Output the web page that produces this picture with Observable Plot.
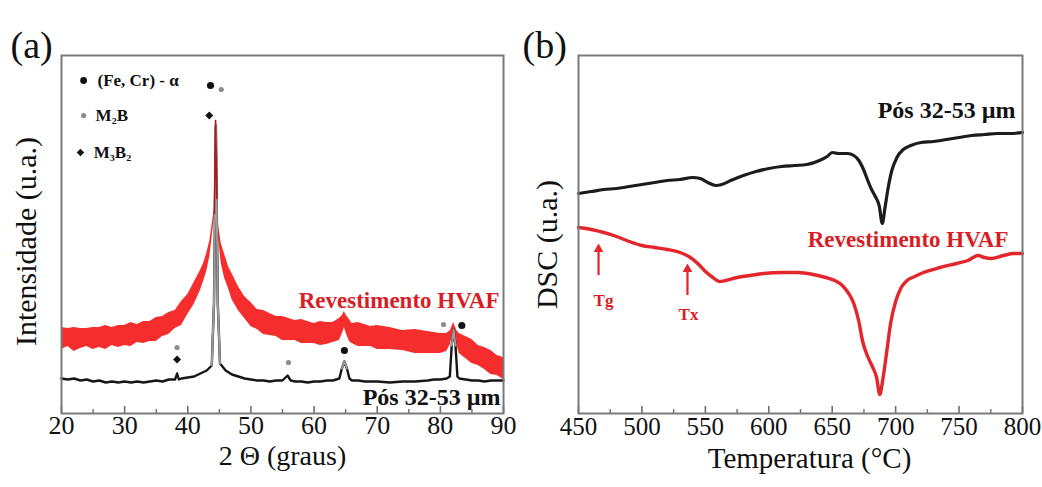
<!DOCTYPE html>
<html><head><meta charset="utf-8">
<script src="https://cdn.jsdelivr.net/npm/d3@7"></script>
<script src="https://cdn.jsdelivr.net/npm/@observablehq/plot@0.6"></script>
<style>
html,body{margin:0;padding:0;background:#fff;}
#wrap{display:flex;width:1042px;height:487px;overflow:hidden;}
#wrap svg{display:block;flex:none;}
</style></head><body><div id="wrap"></div>
<script>
// ---------- (a) XRD data (intensity in arbitrary units) ----------
const xrdPowderTheta = [20,21,22,23,24,25,26,27,28,29,30,31,32,33,34,35,36,37,38,38.3,38.6,39,40,41,42,43,43.8,44.15,44.45,44.75,45.1,46,47,48,49,50,51,52,53,54,55,55.8,56.3,57,58,59,60,61,62,63,64,64.4,64.8,65.2,65.6,66,67,68,69,70,72,74,76,78,79,80,81,81.5,81.8,82.1,82.4,82.7,83,84,85,86,87,88,89,90];
const xrdPowderI     = [35,34,35,33,34,32,33,31,32,31,32,31,32,31,32,33,32,34,34,40,34,35,36,37,40,43,48,110,288,110,50,43,39,37,35,34,33,33,32,33,33,38,33,32,32,31,32,32,33,33,35,45,52,45,35,33,33,32,32,32,31,32,32,33,34,34,35,37,68,84,68,37,35,34,33,33,32,33,33,33];

const xrdCoatTheta = [20,21,22,23,24,25,26,27,28,29,30,31,32,33,34,35,36,37,38,39,40,41,42,42.5,43,43.5,43.9,44.2,44.4,44.6,44.9,45.3,45.8,46.5,47,48,49,50,51,52,53,54,55,56,57,58,59,60,61,62,63,64,64.5,64.8,65.1,65.6,66,67,68,69,70,72,74,76,78,80,81,81.6,82.1,82.6,83,84,85,86,87,88,89,90];
const xrdCoatI     = [75,76,74,75,76,75,76,76,77,77,78,79,80,81,82,84,87,90,94,100,109,120,133,141,151,165,185,200,293,215,180,160,148,135,127,115,106,99,94,91,89,87,85,84,83,82,81,80,80,80,81,84,89,94,89,83,80,79,78,77,76,75,73,72,71,70,71,76,87,76,70,66,62,58,55,51,48,45];
const xrdCoatNoise = [11,9,12,10,9,11,10,12,9,11,10,12,9,11,10,12,10,11,9,12,10,11,10,9,9,8,6,4,2,4,7,10,12,11,13,12,11,12,10,12,11,10,12,11,10,12,11,10,12,11,10,11,9,8,9,11,10,12,11,10,12,11,10,12,11,10,9,7,4,7,10,11,12,10,11,12,10,11];

const phaseNames = ["(Fe, Cr) - α", "M₂B", "M₃B₂"];
const peakTheta = [43.6, 45.3, 43.4, 38.3, 38.3, 55.95, 64.8, 80.5, 83.4];
const peakI     = [328, 324, 298, 66, 54, 51, 63, 89, 88];
const peakPhase = [0, 1, 2, 1, 2, 1, 0, 1, 0];

// ---------- (b) DSC data (heat flow in arbitrary units) ----------
const dscPowderT = [450,460,470,480,490,500,510,520,530,540,546,552,558,563,570,580,590,600,610,620,630,640,646,650,655,662,667,671,675,678,681,684,687,689.5,691.5,694,697,701,706,712,720,730,740,750,760,770,780,790,800];
const dscPowderV = [220,222,224,225,227,229,231,233,234,236,235,231,228,229,233,238,242,245,247,248,249,253,257,261,260,260,258,253,243,233,224,217,208,190,205,225,243,256,264,268,271,272,274,276,278,279,280,280,281];
const dscCoatT = [450,460,470,480,490,500,510,520,530,537,544,550,556,561,566,575,585,596,610,623,635,645,652,658,663,667,671,674,678,682,685,687.5,690,693,696,700,704,709,715,722,735,748,757,765,770,775,785,793,800];
const dscCoatV = [186,184,181,177,172,168,166,164,161,157,150,142,136,132,133,136,138,140,141,141,139,136,133,128,120,110,92,72,57,46,36,19,35,62,90,112,125,133,137,141,146,150,153,158,156,155,158,160,160];
const dscEvents = ["Tg", "Tx"];
const dscEventT = [465.8, 535.9];

const xTicksA = [20,30,40,50,60,70,80,90];
const xMinorA = [25,35,45,55,65,75,85];
const xTicksB = [450,500,550,600,650,700,750,800];
const xMinorB = [475,525,575,625,675,725,775];

// ---------- build ----------
const serif = "'Liberation Serif', 'Times New Roman', serif";
const RED_TXT = "#d81e25";
const powder = xrdPowderTheta.map((t, i) => ({t, v: xrdPowderI[i]}));
const coat = xrdCoatTheta.map((t, i) => ({t, v: xrdCoatI[i], n: xrdCoatNoise[i]}));
const peaks = peakTheta.map((t, i) => ({t, v: peakI[i], phase: peakPhase[i]}));
const dscP = dscPowderT.map((t, i) => ({t, v: dscPowderV[i]}));
const dscC = dscCoatT.map((t, i) => ({t, v: dscCoatV[i]}));

function frameMarks(major, minor, fs, dyLab) {
  return [
    Plot.ruleX(major, {x: d => d, insetTop: 351, stroke: "#6e6e6e", strokeWidth: 1.6}),
    Plot.ruleX(minor, {x: d => d, insetTop: 354, stroke: "#6e6e6e", strokeWidth: 1.4}),
    Plot.text(major, {x: d => d, frameAnchor: "bottom", dy: dyLab, text: d => String(d), fontSize: fs, fontFamily: serif, fill: "#111"}),
    Plot.frame({stroke: "#7a7a7a", strokeWidth: 2})
  ];
}

const plotA = Plot.plot({
  width: 521, height: 487,
  marginLeft: 61, marginRight: 18, marginTop: 55, marginBottom: 74,
  x: {domain: [20, 90], axis: null},
  y: {domain: [0, 358], axis: null},
  style: {fontFamily: serif, background: "#fff", overflow: "visible"},
  marks: [
    Plot.areaY(coat, {x: "t", y1: d => d.v - d.n, y2: d => d.v + d.n, fill: "#f51616", fillOpacity: 0.9}),
    Plot.line(powder, {x: "t", y: "v", stroke: "#161616", strokeWidth: 2.4}),
    Plot.line(powder, {filter: d => d.v >= 44, x: "t", y: "v", z: d => d.t < 50 ? "a" : d.t < 70 ? "b" : "c", stroke: "#9c9c9c", strokeWidth: 2}),
    Plot.line(coat, {filter: d => d.t >= 44 && d.t <= 44.6, x: "t", y: "v", stroke: "#b0161a", strokeWidth: 1.6}),
    Plot.dot(peaks, {filter: d => d.phase === 0, x: "t", y: "v", r: 3.6, fill: "#111"}),
    Plot.dot(peaks, {filter: d => d.phase === 1, x: "t", y: "v", r: 2.6, fill: "#8c8c8c"}),
    Plot.dot(peaks, {filter: d => d.phase === 2, x: "t", y: "v", r: 3.6, symbol: "diamond2", fill: "#111"}),
    // phase legend
    Plot.dot([0], {x: 23.5, y: 333, r: 3.4, fill: "#111"}),
    Plot.dot([1], {x: 23.5, y: 298, r: 2.6, fill: "#8c8c8c"}),
    Plot.dot([2], {x: 23.0, y: 261, r: 3.4, symbol: "diamond2", fill: "#111"}),
    Plot.text([phaseNames[0]], {x: 25.7, y: 333, text: d => d, textAnchor: "start", fontSize: 17, fontWeight: "bold", fontFamily: serif, fill: "#111"}),
    Plot.text([phaseNames[1]], {x: 25.4, y: 298, text: d => d, textAnchor: "start", fontSize: 17, fontWeight: "bold", fontFamily: serif, fill: "#111"}),
    Plot.text([phaseNames[2]], {x: 25.1, y: 261, text: d => d, textAnchor: "start", fontSize: 17, fontWeight: "bold", fontFamily: serif, fill: "#111"}),
    // series labels
    Plot.text(["Revestimento HVAF"], {x: 90, y: 112.4, dx: -4, text: d => d, textAnchor: "end", fontSize: 23, fontWeight: "bold", fontFamily: serif, fill: RED_TXT}),
    Plot.text(["Pós 32-53 µm"], {x: 90, y: 15.7, dx: -3, text: d => d, textAnchor: "end", fontSize: 24, fontWeight: "bold", fontFamily: serif, fill: "#111"}),
    // axis titles and panel label
    Plot.text(["2 Θ (graus)"], {frameAnchor: "bottom", dy: 51, textAnchor: "middle", text: d => d, fontSize: 28, fontFamily: serif, fill: "#111"}),
    Plot.text(["Intensidade (u.a.)"], {frameAnchor: "left", dx: -35.6, dy: 7, rotate: -90, textAnchor: "middle", text: d => d, fontSize: 30, fontFamily: serif, fill: "#111"}),
    Plot.text(["(a)"], {frameAnchor: "top-left", dx: -51, dy: -24.2, textAnchor: "start", text: d => d, fontSize: 38, fontFamily: serif, fill: "#111"}),
    ...frameMarks(xTicksA, xMinorA, 26, 20)
  ]
});

const plotB = Plot.plot({
  width: 521, height: 487,
  marginLeft: 57, marginRight: 20, marginTop: 55, marginBottom: 74,
  x: {domain: [450, 800], axis: null},
  y: {domain: [0, 358], axis: null},
  style: {fontFamily: serif, background: "#fff", overflow: "visible"},
  marks: [
    Plot.line(dscP, {x: "t", y: "v", stroke: "#1c1c1c", strokeWidth: 3.2, curve: "monotone-x"}),
    Plot.line(dscC, {x: "t", y: "v", stroke: "#e3262c", strokeWidth: 3.4, curve: "monotone-x"}),
    Plot.ruleX(dscEventT, {x: d => d, y1: [138, 118], y2: [163, 143], stroke: "#e3262c", strokeWidth: 2.2}),
    Plot.dot(dscEventT, {x: d => d, y: [164.4, 144.4], symbol: "triangle", r: 3.6, fill: "#e3262c"}),
    Plot.text([dscEvents[0]], {x: 469.7, y: 113.4, text: d => d, fontSize: 17, fontWeight: "bold", fontFamily: serif, fill: RED_TXT}),
    Plot.text([dscEvents[1]], {x: 536.7, y: 99.4, text: d => d, fontSize: 17, fontWeight: "bold", fontFamily: serif, fill: RED_TXT}),
    Plot.text(["Pós 32-53 µm"], {x: 800, y: 302.7, dx: -7, text: d => d, textAnchor: "end", fontSize: 24, fontWeight: "bold", fontFamily: serif, fill: "#111"}),
    Plot.text(["Revestimento HVAF"], {x: 800, y: 173.4, dx: -14, text: d => d, textAnchor: "end", fontSize: 23, fontWeight: "bold", fontFamily: serif, fill: RED_TXT}),
    Plot.text(["Temperatura (°C)"], {frameAnchor: "bottom", dx: 9, dy: 54, textAnchor: "middle", text: d => d, fontSize: 29, fontFamily: serif, fill: "#111"}),
    Plot.text(["DSC (u.a.)"], {frameAnchor: "left", dx: -31, dy: 10, rotate: -90, textAnchor: "middle", text: d => d, fontSize: 30, fontFamily: serif, fill: "#111"}),
    Plot.text(["(b)"], {frameAnchor: "top-left", dx: -56, dy: -24.2, textAnchor: "start", text: d => d, fontSize: 38, fontFamily: serif, fill: "#111"}),
    ...frameMarks(xTicksB, xMinorB, 25, 21)
  ]
});

const wrap = document.getElementById("wrap");
wrap.appendChild(plotA);
wrap.appendChild(plotB);
</script></body></html>
